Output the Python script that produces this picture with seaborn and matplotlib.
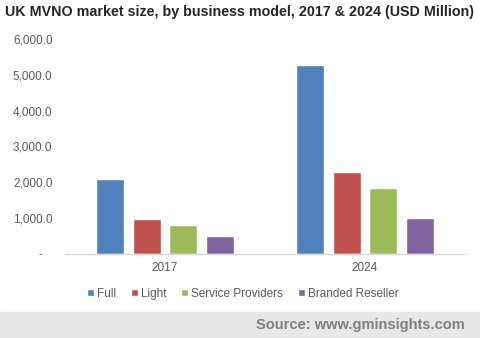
import matplotlib
matplotlib.use("Agg")
import matplotlib.pyplot as plt
import seaborn as sns
import pandas as pd
from matplotlib.ticker import FuncFormatter

years = ["2017", "2024"]
models = ["Full", "Light", "Service Providers", "Branded Reseller"]
full = [2100, 5280]
light = [980, 2290]
service = [810, 1840]
branded = [510, 1010]
colors = ["#4F81BD", "#C0504D", "#9BBB59", "#8064A2"]

rows = []
for m, vals in zip(models, [full, light, service, branded]):
    for y, v in zip(years, vals):
        rows.append({"year": y, "model": m, "value": v})
df = pd.DataFrame(rows)

sns.set_style("white")
plt.rcParams['font.family'] = ['Liberation Sans', 'DejaVu Sans']

fig = plt.figure(figsize=(4.8, 3.38), dpi=100)
ax = fig.add_axes([65/480, 1-254/338, 400/480, (254-39)/338])
sns.barplot(data=df, x="year", y="value", hue="model", order=years, hue_order=models,
            palette=colors, width=0.73, gap=0.22, saturation=1, ax=ax, legend=True)

ax.set_ylim(0, 6000)
ax.set_xlim(-0.5, 1.5)
ax.set_yticks([0, 1000, 2000, 3000, 4000, 5000, 6000])
ax.yaxis.set_major_formatter(FuncFormatter(lambda v, p: "-   " if v == 0 else f"{v:,.1f}"))
ax.set_xlabel("")
ax.set_ylabel("")
for s in ["top", "right", "left"]:
    ax.spines[s].set_visible(False)
ax.spines["bottom"].set_color("#D9D9D9")
ax.spines["bottom"].set_linewidth(1)
ax.tick_params(axis="both", length=0, labelsize=8.5, colors="#595959")
ax.tick_params(axis="y", pad=9)
ax.tick_params(axis="x", pad=6)

leg = ax.legend(loc="center", bbox_to_anchor=(243/480, 1-294/338), bbox_transform=fig.transFigure,
                ncol=4, frameon=False,
                fontsize=8.5, handlelength=0.55, handleheight=0.55, handletextpad=0.3,
                columnspacing=1.25, labelcolor="#595959")

fig.text(5/480, 1-12/338, "UK MVNO market size, by business model, 2017 & 2024 (USD Million)",
         fontsize=10.3, fontweight="bold", color="#262626", va="center", ha="left")

band = plt.Rectangle((0, 0), 1, 26/338, transform=fig.transFigure, color="#E8E8E8", zorder=0)
fig.patches.append(band)
fig.text(465/480, 1-325/338, "Source: www.gminsights.com", fontsize=10.5, fontweight="bold",
         color="#7F7F7F", ha="right", va="center")

fig.savefig("out.png", dpi=100)
